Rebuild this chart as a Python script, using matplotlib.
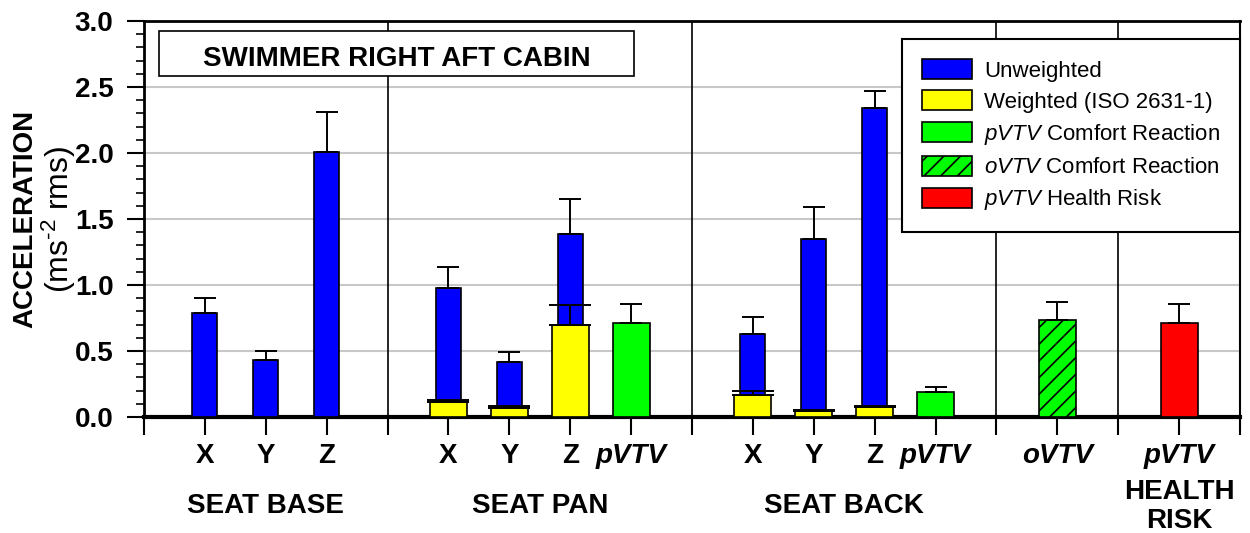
import numpy as np
import matplotlib.pyplot as plt
from matplotlib import transforms
from matplotlib.patches import Rectangle
from matplotlib.ticker import MultipleLocator, FormatStrFormatter

plt.rcParams["font.family"] = ["Liberation Sans", "DejaVu Sans"]
plt.rcParams["mathtext.fontset"] = "custom"
plt.rcParams["mathtext.rm"] = "Liberation Sans"
plt.rcParams["mathtext.it"] = "Liberation Sans:italic"
plt.rcParams["mathtext.bf"] = "Liberation Sans:bold"
plt.rcParams["hatch.linewidth"] = 1.2


# ---- data ----
group_names = ["SEAT BASE", "SEAT PAN", "SEAT BACK", "", "HEALTH\nRISK"]
group_items = [
    ["X", "Y", "Z"],
    ["X", "Y", "Z", "pVTV"],
    ["X", "Y", "Z", "pVTV"],
    ["oVTV"],
    ["pVTV"],
]

# X, Y, Z for seat base, seat pan, seat back
unweighted = [0.79, 0.43, 2.01, 0.98, 0.42, 1.39, 0.63, 1.35, 2.34]
unweighted_sd = [0.11, 0.07, 0.30, 0.16, 0.07, 0.26, 0.125, 0.24, 0.13]

# X, Y, Z for seat pan, seat back (ISO 2631-1)
weighted = [0.11, 0.07, 0.70, 0.165, 0.045, 0.075]
weighted_sd = [0.02, 0.015, 0.15, 0.03, 0.01, 0.005]

# pVTV comfort for seat pan, seat back
pvtv_comfort = [0.71, 0.19]
pvtv_comfort_sd = [0.145, 0.035]

ovtv_comfort = [0.735]
ovtv_comfort_sd = [0.135]

pvtv_health = [0.715]
pvtv_health_sd = [0.14]


# ---- slot layout: one unit per bar, a separator after each group ----
slot_pos = []
slot_labels = []
separators = []
x = 1
for items in group_items:
    pos = list(range(x, x + len(items)))
    slot_pos.append(pos)
    slot_labels += list(zip(pos, items))
    x += len(items)
    separators.append(x)
    x += 1
x_max = separators[-1]
separators = separators[:-1]

xyz_pos = slot_pos[0] + slot_pos[1][:3] + slot_pos[2][:3]
weighted_pos = slot_pos[1][:3] + slot_pos[2][:3]
pvtv_pos = [slot_pos[1][3], slot_pos[2][3]]
ovtv_pos = slot_pos[3]
health_pos = slot_pos[4]

group_centres = [np.mean(p) for p in slot_pos]


def upper_only(err):
    return [np.zeros(len(err)), err]


fig = plt.figure(figsize=(12.5, 5.33), dpi=100)
ax = fig.add_axes([0.1152, 0.2176, 0.8768, 0.743])

edge = dict(edgecolor="black", linewidth=1.2)
narrow_err = dict(ecolor="black", elinewidth=1.4, capsize=8, capthick=1.4)
wide_err = dict(ecolor="black", elinewidth=1.4, capsize=14.8, capthick=1.4)

b_unw = ax.bar(xyz_pos, unweighted, width=0.41, color="#0000ff",
               yerr=upper_only(unweighted_sd),
               error_kw=dict(narrow_err, zorder=3.1), zorder=3, **edge)
b_w = ax.bar(weighted_pos, weighted, width=0.61, color="#ffff00",
             yerr=upper_only(weighted_sd),
             error_kw=dict(wide_err, zorder=4.1), zorder=4, **edge)
b_pc = ax.bar(pvtv_pos, pvtv_comfort, width=0.61, color="#00ff00",
              yerr=upper_only(pvtv_comfort_sd),
              error_kw=dict(narrow_err, zorder=4.1), zorder=4, **edge)
b_oc = ax.bar(ovtv_pos, ovtv_comfort, width=0.61, color="#00ff00",
              hatch="//", yerr=upper_only(ovtv_comfort_sd),
              error_kw=dict(narrow_err, zorder=4.1), zorder=4, **edge)
b_h = ax.bar(health_pos, pvtv_health, width=0.61, color="#ff0000",
             yerr=upper_only(pvtv_health_sd),
             error_kw=dict(narrow_err, zorder=4.1), zorder=4, **edge)

for s in separators:
    ax.axvline(s, color="black", linewidth=1.2, zorder=2.5)

# axes
ax.set_xlim(0, x_max)
ax.set_ylim(0, 3.0)
ax.yaxis.set_major_locator(MultipleLocator(0.5))
ax.yaxis.set_minor_locator(MultipleLocator(0.1))
ax.yaxis.set_major_formatter(FormatStrFormatter("%.1f"))
ax.yaxis.grid(True, which="major", color="#c8c8c8", linewidth=1.5, zorder=1)
ax.set_axisbelow(True)

ax.set_xticks(range(0, x_max + 1))
tick_text = {p: t for p, t in slot_labels}
ax.set_xticklabels([tick_text.get(i, "") for i in range(0, x_max + 1)],
                   fontsize=20, fontweight="bold")
for lbl in ax.get_xticklabels():
    if "VTV" in lbl.get_text():
        lbl.set_fontstyle("italic")

for lbl in ax.get_yticklabels():
    lbl.set_fontweight("bold")
ax.tick_params(axis="y", which="major", length=12, width=1.5, labelsize=20, pad=10)
ax.tick_params(axis="y", which="minor", length=6, width=1.2)
ax.tick_params(axis="x", which="major", length=13, width=1.5, pad=6)

ax.spines["left"].set_linewidth(2)
ax.spines["bottom"].set_linewidth(3)
ax.spines["top"].set_linewidth(2)
ax.spines["right"].set_linewidth(1.5)

# y axis title, two lines with different weights
fig.text(0.020, 0.589, "ACCELERATION", rotation=90, ha="center", va="center",
         fontsize=20, fontweight="bold")
fig.text(0.047, 0.589, r"(ms$^{\text{-2}}$ rms)", rotation=90, ha="center",
         va="center", fontsize=23)

# location names under the tick labels
trans = transforms.blended_transform_factory(ax.transData, fig.transFigure)
for name, xc in zip(group_names, group_centres):
    if name:
        ax.text(xc, 0.050, name, transform=trans, ha="center", va="center",
                fontsize=20, fontweight="bold", linespacing=1.15)

# title box
ax.add_patch(Rectangle((0.0137, 0.8611), 0.4334, 0.1136, transform=ax.transAxes,
                       facecolor="white", edgecolor="black", linewidth=1.2,
                       zorder=5))
ax.text(0.2304, 0.8864, "SWIMMER RIGHT AFT CABIN", transform=ax.transAxes,
        ha="center", va="baseline", fontsize=20, fontweight="bold", zorder=6)

leg = ax.legend(
    [b_unw, b_w, b_pc, b_oc, b_h],
    ["Unweighted", "Weighted (ISO 2631-1)",
     r"$\mathit{pVTV}$ Comfort Reaction",
     r"$\mathit{oVTV}$ Comfort Reaction",
     r"$\mathit{pVTV}$ Health Risk"],
    loc="upper right", bbox_to_anchor=(1.0, 0.9545), borderaxespad=0,
    fontsize=16, handlelength=2.25, handleheight=1.0, handletextpad=0.55,
    borderpad=0.9, labelspacing=0.4, fancybox=False, framealpha=1,
    edgecolor="black",
)
leg.get_frame().set_linewidth(1.5)
leg.set_zorder(6)

fig.savefig("out.png", dpi=100)
